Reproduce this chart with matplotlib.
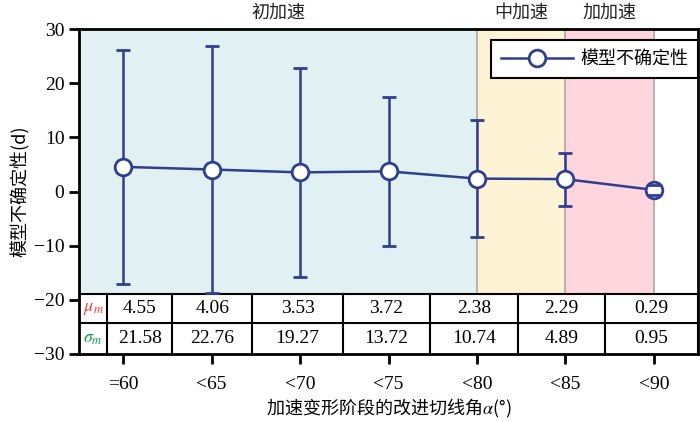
import matplotlib.pyplot as plt
from matplotlib.lines import Line2D
import numpy as np

plt.rcParams['font.family'] = ['Liberation Serif', 'Noto Sans CJK SC']
plt.rcParams['mathtext.fontset'] = 'stix'

categories = ['=60', '<65', '<70', '<75', '<80', '<85', '<90']
mu = [4.55, 4.06, 3.53, 3.72, 2.38, 2.29, 0.29]
sigma = [21.58, 22.76, 19.27, 13.72, 10.74, 4.89, 0.95]
stages = ['初加速', '中加速', '加加速']

navy = '#2f3e8e'
stage_spans = [(-0.5, 4), (4, 5), (5, 6)]
stage_colors = ['#e1f1f3', '#fff3d6', '#ffd6dd']

fig = plt.figure(figsize=(7, 4.22), dpi=100)
ax = fig.add_axes([79/700, 68/422, 619/700, 325/422])

x = np.arange(len(categories))
tab_top = -18.9
tab_mid = -24.3

# stage backgrounds
for (a, b), c, name in zip(stage_spans, stage_colors, stages):
    ax.fill_between([a, b], tab_top, 30, color=c, lw=0, zorder=0)
    ax.text((a + b) / 2, 31.3, name, ha='center', va='bottom', fontsize=13,
            family=['Noto Sans CJK SC'], color='#222222')
for xv in [4, 5, 6]:
    ax.plot([xv, xv], [tab_top, 30], color='#b0a4a4', lw=1.2, zorder=1)

# table
ax.fill_between([-0.5, 6.5], -30, tab_top, color='white', lw=0, zorder=2)
edges = [-0.5, -0.181, 0.554, 1.458, 2.486, 3.469, 4.463, 5.446, 6.5]
for e in edges:
    ax.plot([e, e], [-30, tab_top], color='black', lw=1.5, zorder=3)
ax.plot([-0.5, 6.5], [tab_top, tab_top], color='black', lw=1.5, zorder=3)
ax.plot([-0.5, 6.5], [tab_mid, tab_mid], color='black', lw=1.5, zorder=3)
ym1 = (tab_top + tab_mid) / 2
ym2 = (tab_mid - 30) / 2
cx0 = (edges[0] + edges[1]) / 2
ax.text(cx0, ym1, r'$\mu_m$', color='#e8413c', ha='center', va='center', fontsize=13, zorder=4)
ax.text(cx0, ym2, r'$\sigma_m$', color='#15994a', ha='center', va='center', fontsize=13, zorder=4)
for i in range(len(categories)):
    cx = (edges[i + 1] + edges[i + 2]) / 2
    ax.text(cx, ym1, '%.2f' % mu[i], ha='center', va='center', fontsize=14, zorder=4)
    ax.text(cx, ym2, '%.2f' % sigma[i], ha='center', va='center', fontsize=14, zorder=4)

# data with error bars
lo = [m - s for m, s in zip(mu, sigma)]
lo = [max(v, tab_top) for v in lo]
hi = [m + s for m, s in zip(mu, sigma)]
yerr = [np.array(mu) - np.array(lo), np.array(hi) - np.array(mu)]
cont = ax.errorbar(x, mu, yerr=yerr, color=navy, lw=1.8, elinewidth=1.8,
                   capsize=5, capthick=1.8, marker='o', ms=12,
                   mfc='white', mec=navy, mew=2, zorder=5)
for cap in cont[1]:
    cap.set_zorder(6)

handle = Line2D([], [], color=navy, lw=1.8, marker='o', ms=12,
                mfc='white', mec=navy, mew=2)
leg = ax.legend([handle], ['模型不确定性'], loc='upper right',
                bbox_to_anchor=(1.0, 0.966), borderaxespad=0,
                fancybox=False, framealpha=1, edgecolor='black',
                prop={'family': ['Noto Sans CJK SC'], 'size': 13},
                handlelength=4.0, handletextpad=0.4, borderpad=0.55)
leg.get_frame().set_linewidth(1.5)

ax.set_xlim(-0.5, 6.5)
ax.set_ylim(-30, 30)
ax.set_yticks([-30, -20, -10, 0, 10, 20, 30])
ax.set_yticklabels(['\u221230', '\u221220', '\u221210', '0', '10', '20', '30'])
ax.set_xticks(x)
ax.set_xticklabels(categories)
ax.tick_params(axis='both', direction='out', width=2, length=7, labelsize=14)
ax.tick_params(axis='x', pad=9)
for sp in ax.spines.values():
    sp.set_linewidth(2)
    sp.set_zorder(7)

ax.set_ylabel('模型不确定性(d)', fontsize=13, family=['Noto Sans CJK SC', 'Liberation Serif'], labelpad=3)
ax.set_xlabel('加速变形阶段的改进切线角$\\alpha$(°)', fontsize=13,
              family=['Noto Sans CJK SC', 'Liberation Serif'], labelpad=3)

fig.savefig('out.png', dpi=100)
